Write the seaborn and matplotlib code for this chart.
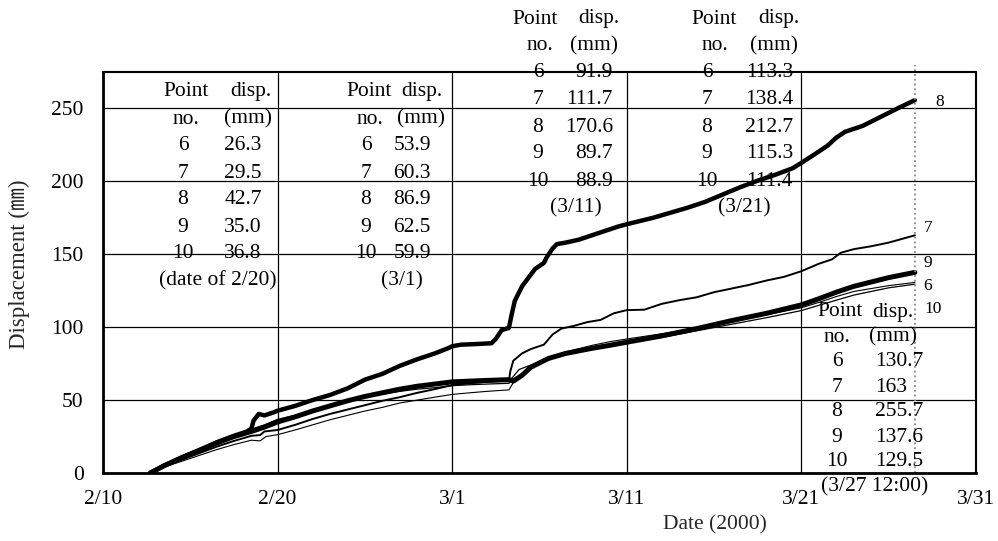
import matplotlib
matplotlib.use("Agg")
import matplotlib.pyplot as plt
import seaborn as sns
import pandas as pd

# ---------------- data ----------------
dates8 = ["02-12 17:00", "02-13 12:00", "02-14 12:00", "02-15 12:00", "02-16 12:00", "02-17 12:00",
          "02-18 06:00", "02-18 12:00", "02-18 15:00", "02-18 22:00", "02-19 06:00", "02-19 18:00",
          "02-20 00:00", "02-21 00:00", "02-22 00:00", "02-23 00:00", "02-24 00:00", "02-25 00:00",
          "02-26 00:00", "02-27 00:00", "02-28 00:00", "02-29 00:00", "02-29 18:00", "03-01 00:00",
          "03-01 12:00", "03-02 12:00", "03-03 06:00", "03-03 12:00", "03-03 20:00", "03-04 06:00",
          "03-04 09:00", "03-04 14:00", "03-05 00:00", "03-05 12:00", "03-05 18:00", "03-06 06:00",
          "03-06 10:00", "03-06 18:00", "03-07 00:00", "03-07 12:00", "03-08 06:00", "03-09 00:00",
          "03-09 18:00", "03-10 12:00", "03-11 00:00", "03-12 12:00", "03-13 12:00", "03-14 12:00",
          "03-15 12:00", "03-16 12:00", "03-17 12:00", "03-18 12:00", "03-19 12:00", "03-20 12:00",
          "03-21 00:00", "03-21 18:00", "03-22 12:00", "03-23 00:00", "03-23 12:00", "03-24 12:00",
          "03-25 12:00", "03-26 12:00", "03-27 12:00"]
disp8 = [0, 5, 10.5, 15.5, 21, 25.5,
         28.5, 30.5, 36, 40.5, 39.5, 41.5,
         42.7, 46, 50, 53.5, 58, 64,
         68, 73.5, 78, 82, 85.5, 86.9,
         88, 88.5, 89, 92, 98, 99.5,
         107, 118, 128, 136, 140, 144,
         148, 154, 157, 158, 160, 163,
         166, 169, 170.6, 175, 178.5, 182,
         186, 191, 196, 200.5, 204.5, 209,
         212.7, 218.5, 224.5, 230, 234, 238,
         244, 250, 255.7]

dates7 = ["02-12 17:00", "02-13 12:00", "02-14 12:00", "02-15 12:00", "02-16 12:00", "02-17 12:00",
          "02-18 12:00", "02-19 00:00", "02-19 06:00", "02-20 00:00", "02-21 00:00", "02-22 00:00",
          "02-23 00:00", "02-24 00:00", "02-25 00:00", "02-26 00:00", "02-27 00:00", "02-28 00:00",
          "02-29 00:00", "03-01 00:00", "03-02 00:00", "03-03 00:00", "03-04 06:00", "03-04 08:00",
          "03-04 12:00", "03-05 00:00", "03-05 12:00", "03-06 06:00", "03-06 18:00", "03-07 06:00",
          "03-08 00:00", "03-08 18:00", "03-09 12:00", "03-10 06:00", "03-11 00:00", "03-12 00:00",
          "03-13 00:00", "03-14 00:00", "03-15 00:00", "03-16 00:00", "03-17 00:00", "03-18 00:00",
          "03-19 00:00", "03-20 00:00", "03-21 00:00", "03-22 00:00", "03-22 18:00", "03-23 06:00",
          "03-24 00:00", "03-25 00:00", "03-26 00:00", "03-27 12:00"]
disp7 = [0, 4.5, 9, 13.5, 18, 22,
         25.5, 26, 28.5, 29.5, 33, 37,
         40.5, 43.5, 46.5, 49.5, 52, 55,
         57.5, 60.3, 61.5, 62.5, 63.5, 70,
         77, 82, 85, 88, 95, 99,
         101, 103.5, 105, 109.5, 111.7, 112,
         116, 118.5, 120.5, 124, 126.5, 129,
         132, 134.5, 138.4, 143.5, 146.5, 151,
         153.5, 155.5, 158, 163]

dates9 = ["02-12 17:00", "02-13 12:00", "02-14 12:00", "02-15 12:00", "02-16 12:00", "02-17 12:00",
          "02-18 12:00", "02-19 06:00", "02-20 00:00", "02-21 00:00", "02-22 00:00", "02-23 00:00",
          "02-24 00:00", "02-25 00:00", "02-26 00:00", "02-27 00:00", "02-28 00:00", "02-29 00:00",
          "03-01 00:00", "03-02 00:00", "03-03 00:00", "03-04 06:00", "03-04 12:00", "03-05 00:00",
          "03-05 12:00", "03-06 12:00", "03-07 12:00", "03-09 00:00", "03-10 00:00", "03-11 00:00",
          "03-13 00:00", "03-15 00:00", "03-17 00:00", "03-19 00:00", "03-21 00:00", "03-22 00:00",
          "03-23 00:00", "03-24 00:00", "03-25 00:00", "03-26 00:00", "03-27 12:00"]
disp9 = [0, 5, 10.5, 15.5, 20.5, 25,
         28.5, 31.5, 35, 38.5, 42.5, 46,
         49.5, 52.5, 55, 57.5, 59.5, 61,
         62.5, 63, 63.5, 64, 63, 67,
         72.5, 78.5, 82, 85.5, 87.5, 89.7,
         94, 99, 104.5, 109.5, 115.3, 119.5,
         124, 128, 131, 134, 137.6]

dates10 = ["02-12 17:00", "02-13 12:00", "02-14 12:00", "02-15 12:00", "02-16 12:00", "02-17 12:00",
           "02-18 12:00", "02-19 06:00", "02-20 00:00", "02-21 00:00", "02-22 00:00", "02-23 00:00",
           "02-24 00:00", "02-25 00:00", "02-26 00:00", "02-27 00:00", "02-28 00:00", "02-29 00:00",
           "03-01 00:00", "03-02 00:00", "03-03 00:00", "03-04 06:00", "03-04 10:00", "03-04 20:00",
           "03-05 12:00", "03-06 12:00", "03-07 12:00", "03-09 00:00", "03-10 00:00", "03-11 00:00",
           "03-13 00:00", "03-15 00:00", "03-17 00:00", "03-19 00:00", "03-21 00:00", "03-22 00:00",
           "03-23 00:00", "03-24 00:00", "03-25 00:00", "03-26 00:00", "03-27 12:00"]
disp10 = [0, 5, 11, 16, 21, 26,
          30, 33, 36.8, 39.5, 43, 46,
          49, 52, 54, 56, 57.5, 58.5,
          59.9, 60.5, 61, 61.5, 65, 71,
          74, 78, 81.5, 85, 87, 88.9,
          93, 97.5, 102, 106.5, 111.4, 115,
          118.5, 122, 124.5, 127, 129.5]

dates6 = ["02-12 17:00", "02-13 12:00", "02-14 12:00", "02-15 12:00", "02-16 12:00", "02-17 12:00",
          "02-18 12:00", "02-19 00:00", "02-19 08:00", "02-20 00:00", "02-21 00:00", "02-22 00:00",
          "02-23 00:00", "02-24 00:00", "02-25 00:00", "02-26 00:00", "02-27 00:00", "02-28 00:00",
          "02-29 00:00", "03-01 00:00", "03-02 00:00", "03-03 00:00", "03-04 06:00", "03-04 12:00",
          "03-05 00:00", "03-05 12:00", "03-06 12:00", "03-07 12:00", "03-09 00:00", "03-10 00:00",
          "03-11 00:00", "03-13 00:00", "03-15 00:00", "03-17 00:00", "03-19 00:00", "03-21 00:00",
          "03-22 00:00", "03-23 00:00", "03-24 00:00", "03-25 00:00", "03-26 00:00", "03-27 12:00"]
disp6 = [0, 4, 8, 12, 16, 19.5,
         22.5, 22, 25, 26.3, 29.5, 33,
         36.5, 39.5, 42.5, 45, 48, 50,
         52, 53.9, 55, 56, 57, 62,
         68, 73, 79, 83, 87.5, 90,
         91.9, 95.5, 99.5, 104, 108.5, 113.3,
         117, 121, 124.5, 126.5, 128.5, 130.7]

x_tick_dates = ["2000-02-10", "2000-02-20", "2000-03-01", "2000-03-11", "2000-03-21", "2000-03-31"]
x_tick_labels = ["2/10", "2/20", "3/1", "3/11", "3/21", "3/31"]
y_ticks = [0, 50, 100, 150, 200, 250]
reading_date = "2000-03-27 12:00"

point_nos = ["6", "7", "8", "9", "10"]
tab_220 = ["26.3", "29.5", "42.7", "35.0", "36.8"]
tab_301 = ["53.9", "60.3", "86.9", "62.5", "59.9"]
tab_311 = ["91.9", "111.7", "170.6", "89.7", "88.9"]
tab_321 = ["113.3", "138.4", "212.7", "115.3", "111.4"]
tab_327 = ["130.7", "163", "255.7", "137.6", "129.5"]

# ---------------- style ----------------
sns.set_style("white")
SERIF = ["Liberation Serif", "DejaVu Serif"]
plt.rcParams["font.family"] = SERIF
FS = 15.5

W, H = 998, 541
fig = plt.figure(figsize=(W / 100, H / 100), dpi=100)
L, R, T, B = 103, 976, 72, 473
ax = fig.add_axes([L / W, 1 - B / H, (R - L) / W, (B - T) / H])

series = [
    ("6", dates6, disp6, 0.8),
    ("10", dates10, disp10, 0.9),
    ("7", dates7, disp7, 1.4),
    ("9", dates9, disp9, 3.6),
    ("8", dates8, disp8, 3.2),
]
for name, d, v, lw in series:
    df = pd.DataFrame({"date": pd.to_datetime(["2000-" + s for s in d]), "disp": v})
    sns.lineplot(data=df, x="date", y="disp", ax=ax, color="black", linewidth=lw,
                 estimator=None, sort=False, legend=False, solid_joinstyle="round")

ax.set_xlim(pd.Timestamp(x_tick_dates[0]), pd.Timestamp(x_tick_dates[-1]))
ax.set_ylim(0, 275)
ax.set_xticks(pd.to_datetime(x_tick_dates))
ax.set_xticklabels(x_tick_labels)
ax.set_yticks(y_ticks)
ax.tick_params(axis="both", length=0, labelsize=FS, colors="black")
ax.tick_params(axis="x", pad=12)
ax.tick_params(axis="y", pad=14)
ax.grid(True, color="black", linewidth=0.9)
for side, sp in ax.spines.items():
    sp.set_visible(True)
    sp.set_color("black")
    sp.set_linewidth(2.0 if side in ("left", "bottom") else 1.5)

ax.axvline(pd.Timestamp(reading_date), ymin=0, ymax=280 / 275, clip_on=False,
           color="#888888", linestyle=":", linewidth=1.3)

ax.set_xlabel("Date (2000)", fontsize=FS)
ax.xaxis.set_label_coords((715 - L) / (R - L), (B - 525) / (B - T))
ax.xaxis.label.set_verticalalignment("center")
ax.set_ylabel("Displacement (㎜)", fontsize=16.5, family=["Liberation Serif", "Noto Sans CJK JP"])
ax.yaxis.set_label_coords((19 - L) / (R - L), (B - 264) / (B - T))
ax.yaxis.label.set_verticalalignment("center")


def ptext(x, y, s, ha="center", size=FS):
    fig.text(x / W, 1 - y / H, s, ha=ha, va="center", fontsize=size, color="black")


def table(vals, y0, step, pt_x, disp_x, no_x, mm_x, c1_x, c2_x, c2_ha, foot, foot_x):
    ptext(pt_x, y0, "Point")
    ptext(disp_x, y0, "disp.")
    ptext(no_x, y0 + step, "no.")
    ptext(mm_x, y0 + step, "(mm)")
    for i, (p, v) in enumerate(zip(point_nos, vals)):
        y = y0 + step * (i + 2)
        ptext(c1_x, y, p)
        ptext(c2_x, y, v, ha=c2_ha)
    ptext(foot_x, y0 + step * 7, foot)


table(tab_220, 92, 27, 186, 251, 186, 248, 183, 243, "center", "(date of 2/20)", 218)
table(tab_301, 92, 27, 369, 422, 370, 421, 366, 412, "center", "(3/1)", 402)
table(tab_311, 19, 27, 535, 599, 540, 594, 538, 613, "right", "(3/11)", 576)
table(tab_321, 19, 27, 714, 779, 715, 774, 707, 793, "right", "(3/21)", 744)
table(tab_327, 312, 25, 840, 893, 837, 893, 837, 875, "left", "(3/27 12:00)", 875)

# series end labels
for name, x, y in [("8", 940, 102), ("7", 928, 228), ("9", 928, 263), ("6", 928, 286), ("10", 933, 309)]:
    ptext(x, y, name, size=12.5)

fig.savefig("out.png", dpi=100)
